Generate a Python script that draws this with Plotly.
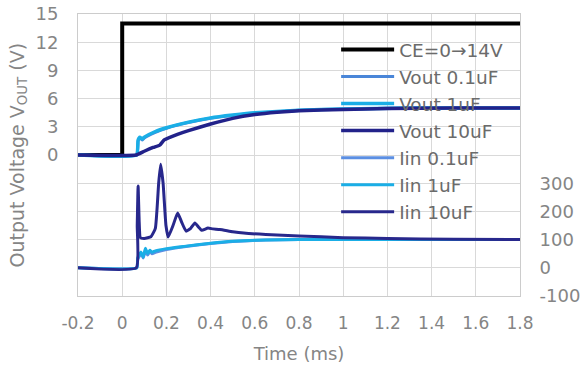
import plotly.graph_objects as go

# ---- data ----
t_ce = [-0.2, 0.0, 0.0, 1.8]
v_ce = [0, 0, 14, 14]

t_vout01 = [-0.2, 0.065, 0.072, 0.08, 0.09, 0.10, 0.15, 0.20, 0.30, 0.40, 0.50, 0.60, 0.80, 1.00, 1.30, 1.80]
v_vout01 = [0, 0, 1.5, 1.8, 1.6, 1.8, 2.4, 2.85, 3.45, 3.9, 4.2, 4.45, 4.75, 4.9, 5.0, 5.0]

t_vout1 = [-0.2, 0.065, 0.072, 0.08, 0.09, 0.10, 0.15, 0.20, 0.30, 0.40, 0.50, 0.60, 0.80, 1.00, 1.30, 1.80]
v_vout1 = [0, 0, 1.6, 1.9, 1.7, 1.9, 2.5, 2.9, 3.5, 3.95, 4.25, 4.5, 4.75, 4.9, 5.0, 5.0]

t_vout10 = [-0.2, 0.063, 0.10, 0.14, 0.17, 0.19, 0.25, 0.30, 0.40, 0.50, 0.60, 0.70, 0.80, 1.00, 1.20, 1.50, 1.80]
v_vout10 = [0, 0, 0.4, 0.8, 1.05, 1.6, 2.2, 2.6, 3.3, 3.9, 4.3, 4.55, 4.7, 4.85, 4.95, 5.0, 5.0]

t_iin01 = [-0.2, 0.066, 0.070, 0.085, 0.095, 0.105, 0.115, 0.125, 0.135, 0.15, 0.20, 0.28, 0.40, 0.50, 0.65, 0.80, 1.00, 1.80]
i_iin01 = [0, 0, 30, 50, 35, 62, 45, 58, 50, 55, 65, 75, 86, 93, 99, 100, 100, 100]

t_iin1 = [-0.2, 0.066, 0.070, 0.085, 0.095, 0.105, 0.115, 0.125, 0.135, 0.15, 0.20, 0.28, 0.40, 0.50, 0.65, 0.80, 1.00, 1.80]
i_iin1 = [0, 0, 34, 56, 38, 69, 51, 62, 55, 60, 68, 76, 87, 94, 99, 100, 100, 100]

t_iin10 = [-0.2, 0.064, 0.068, 0.072, 0.077, 0.082, 0.10, 0.13, 0.15, 0.165, 0.174, 0.185, 0.198, 0.208, 0.23, 0.251, 0.27, 0.289,
           0.31, 0.329, 0.345, 0.36, 0.388, 0.41, 0.442, 0.50, 0.55, 0.65, 0.80, 1.00, 1.20, 1.50, 1.80]
i_iin10 = [0, 0, 150, 290, 160, 107, 104, 110, 140, 300, 367, 300, 150, 109, 150, 194, 160, 130,
           140, 159, 145, 133, 141, 138, 136, 128, 123, 118, 113, 107, 104, 101, 100]

x_ticks = [-0.2, 0, 0.2, 0.4, 0.6, 0.8, 1, 1.2, 1.4, 1.6, 1.8]
x_ticktext = ["-0.2", "0", "0.2", "0.4", "0.6", "0.8", "1", "1.2", "1.4", "1.6", "1.8"]
y1_ticks = [0, 3, 6, 9, 12, 15]
y1_minor = [-15, -12, -9, -6, -3]
y2_ticks = [-100, 0, 100, 200, 300]
y2_ticktext = ["-100", "0", "100", "200", "300"]

FONT = "DejaVu Sans, Verdana, sans-serif"
GRAY = "#858585"
GRID = "#d9d9d9"

fig = go.Figure()

series = [
    ("CE=0→14V", t_ce, v_ce, "#000000", 4, "y"),
    ("Vout 0.1uF", t_vout01, v_vout01, "#4a86d8", 3, "y"),
    ("Vout 1uF", t_vout1, v_vout1, "#1aaee6", 3.5, "y"),
    ("Vout 10uF", t_vout10, v_vout10, "#22228a", 3.5, "y"),
    ("Iin 0.1uF", t_iin01, i_iin01, "#5b8fe3", 3, "y2"),
    ("Iin 1uF", t_iin1, i_iin1, "#1aaee6", 3, "y2"),
    ("Iin 10uF", t_iin10, i_iin10, "#28288c", 3, "y2"),
]
for name, xs, ys, col, w, ax in series:
    if name.startswith("CE"):
        line = dict(color=col, width=w)
    else:
        line = dict(color=col, width=w, shape="spline", smoothing=0.4)
    fig.add_trace(go.Scatter(x=xs, y=ys, name=name, mode="lines", yaxis=ax, line=line))

fig.update_layout(
    width=582, height=369,
    margin=dict(l=78, r=62, t=14, b=73, autoexpand=False),
    paper_bgcolor="white", plot_bgcolor="white",
    font=dict(family=FONT, color=GRAY, size=18),
    xaxis=dict(range=[-0.2, 1.8], tickvals=x_ticks, ticktext=x_ticktext, automargin=False,
               showgrid=True, gridcolor=GRID, gridwidth=1,
               zeroline=False, showline=True, linecolor="#cccccc", mirror=True,
               ticks="outside", ticklen=12, tickcolor="rgba(0,0,0,0)",
               tickfont=dict(size=17, color=GRAY), ticklabeloverflow="allow",
               title=dict(text="Time (ms)", font=dict(size=18, color=GRAY), standoff=14)),
    yaxis=dict(range=[-15, 15], tickvals=y1_ticks, automargin=False,
               minor=dict(tickvals=y1_minor, showgrid=True, gridcolor=GRID, gridwidth=1),
               showgrid=True, gridcolor=GRID, gridwidth=1,
               zeroline=False, showline=True, linecolor="#cccccc", mirror=True,
               ticks="outside", ticklen=15, tickcolor="rgba(0,0,0,0)",
               tickfont=dict(size=18, color=GRAY), ticklabeloverflow="allow"),
    yaxis2=dict(range=[-100, 900], tickvals=y2_ticks, ticktext=y2_ticktext, automargin=False,
                overlaying="y", side="right", showgrid=False, zeroline=False,
                ticks="outside", ticklen=15, tickcolor="rgba(0,0,0,0)",
                tickfont=dict(size=18, color=GRAY), ticklabeloverflow="allow"),
    legend=dict(x=0.584, y=0.94, xanchor="left", yanchor="top",
                bgcolor="rgba(0,0,0,0)", traceorder="normal",
                font=dict(size=18.5, color="#6b6b6b"), itemwidth=53),
    showlegend=True,
)

fig.add_annotation(text="Output Voltage V<sub>OUT</sub> (V)", textangle=-90,
                   xref="paper", yref="paper", x=(17.5 - 78) / 442, y=0.5,
                   xanchor="center", yanchor="middle", showarrow=False,
                   font=dict(size=19, color=GRAY, family=FONT))

fig.write_html("out.html", config={"displayModeBar": False},
               post_script="document.body.style.margin='0';")
